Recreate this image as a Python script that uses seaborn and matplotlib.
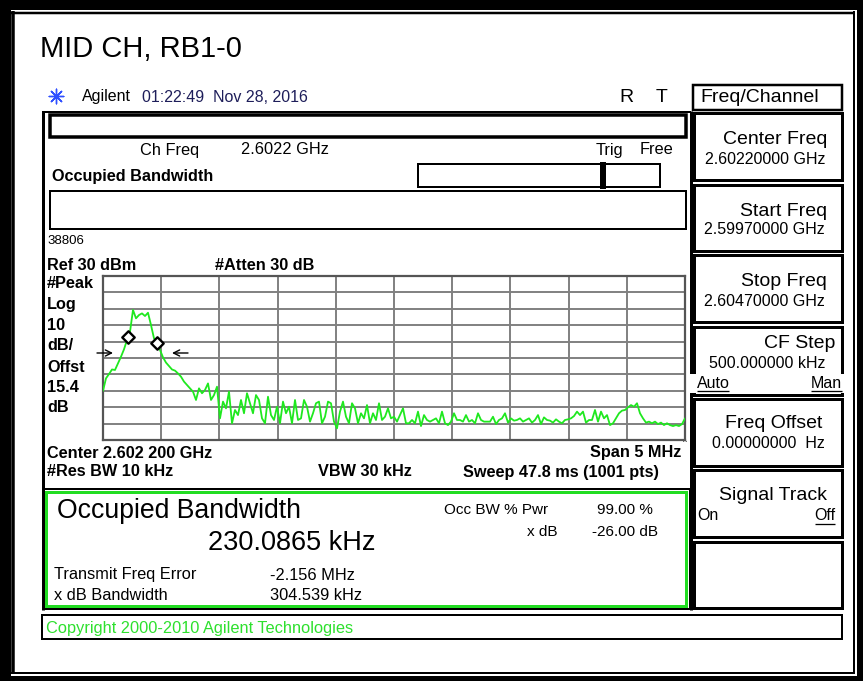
import numpy as np
import pandas as pd
import matplotlib
matplotlib.use("Agg")
import matplotlib.pyplot as plt
import seaborn as sns
from matplotlib.patches import Rectangle

sns.set_theme(style="white")
plt.rcParams["font.family"] = ["Liberation Sans", "DejaVu Sans"]

# ---------------- data ----------------
start_ghz = 2.5997
stop_ghz = 2.6047
ref_level_dbm = 30
db_per_div = 10
n_div = 10

level_carrier = [-40, -32.4, -29.8, -27, -27.3, -23.3, -19.2, -14.7, -9, -4, 9.3, 4.2, 6.2, 7.2,
                 5.6, 7.6, 0.1, -8, -11, -15.1, -19.6, -22.8, -24.9, -27, -27.7, -29.4, -31.4,
                 -34.4, -36.5, -38.5, -40.5, -45.6, -38.5]
level_skirt = [-41.5, -39.5, -35.5, -45.6, -42.6, -37.5, -56.8, -46.6, -50.7, -40.5, -59.8, -51.7,
               -54.8, -45.6, -53.7, -41.5, -47.6, -53.7, -42.6, -45.6, -56.8, -59.8, -43.6, -54.8,
               -57.8, -49.7, -59.8, -46.6, -53.7, -49.7, -59.8]
level_mid1 = [-45.6, -57.8, -56.8, -45.6, -49.7, -58.8, -53.7, -47.6, -46.6, -59.8, -55.8, -46.6,
              -47.6, -58.8, -62.9, -52.7, -46.6, -55.8, -59.8, -47.6, -50.7, -59.8, -53.7, -56.8,
              -48.7, -59.8, -53.7, -57.8, -47.6, -57.8, -55.8, -50.7]
level_mid2 = [-56.8, -55.8, -58.8, -54.8, -50.7, -59.8, -59.8, -57.8, -59.8, -52.7, -61.5, -54.8,
              -57.8, -58.8, -57.8, -56.8, -59.8, -52.7, -59.8, -60.9, -58.8, -53.7, -57.8, -57.8,
              -58.8, -54.8, -58.8, -57.8, -59.8, -53.7, -57.8, -58.8]
level_mid3 = [-58.8, -58.8, -55.8, -60.3, -57.8, -56.8, -53.7, -59.4, -56.8, -58.2, -57.8, -56.8,
              -58.8, -57.8, -56.8, -59.4, -57.8, -54.8, -60.3, -56.2, -57.8, -58.2, -59.4, -57.4,
              -58.8, -59.8, -57.8, -57.4, -56.8, -55.4, -52.7, -54.8, -52.7]
level_upper = [-59.4, -57.8, -57.8, -51.7, -58.8, -52.7, -56.8, -54.8, -60.9, -59.8, -56.8, -53.7,
               -52.1, -51.7, -50.1, -48.7, -49.7, -47.6, -53.7, -56.8, -59.4, -58.8, -59.8, -58.8,
               -60.3, -59.4, -60.9, -59.8, -60.9, -61.5, -60.9, -61.5, -60.3, -56.8]

level_dbm = level_carrier + level_skirt + level_mid1 + level_mid2 + level_mid3 + level_upper
# analyzer sweep points spread evenly across the span
freq_ghz = np.linspace(start_ghz, stop_ghz, len(level_dbm))
trace = pd.DataFrame({"freq": freq_ghz, "level": level_dbm})

marker_freq_ghz = [2.599917, 2.600161]
marker_level_dbm = [-7.0, -10.7]
markers = pd.DataFrame({"freq": marker_freq_ghz, "level": marker_level_dbm})

softkeys = [("Center Freq", "2.60220000 GHz"), ("Start Freq", "2.59970000 GHz"),
            ("Stop Freq", "2.60470000 GHz"), ("CF Step", "500.000000 kHz"),
            ("Freq Offset", "0.00000000  Hz"), ("Signal Track", ""), ("", "")]

# ---------------- figure ----------------
W, H = 863, 681
fig = plt.figure(figsize=(W / 100, H / 100), dpi=100, facecolor="white")
bg = fig.add_axes([0, 0, 1, 1])
bg.set_xlim(0, W)
bg.set_ylim(H, 0)
bg.axis("off")

PX = 0.72  # points per pixel
FS = 11.8   # small regular text
FB = 11.7   # small bold text


def T(x, y, s, size=FS, ha="left", weight="normal", color="black", va="center", z=3):
    bg.text(x, y, s, fontsize=size, ha=ha, va=va, fontweight=weight, color=color, zorder=z)


def R(x0, y0, x1, y1, lw=2, color="black", fill=False):
    bg.add_patch(Rectangle((x0, y0), x1 - x0, y1 - y0, fill=fill, lw=lw * PX,
                           edgecolor=color, facecolor=color if fill else "none"))


def L(xs, ys, lw=2, color="black", z=2):
    bg.plot(xs, ys, color=color, lw=lw * PX, solid_capstyle="butt", zorder=z)


# outer frame
R(0, 0, 9.5, H, fill=True)
R(0, 0, W, 9, fill=True)
R(858, 0, W, H, fill=True)
R(0, 677, W, H, fill=True)
L([13, 13], [11, 674], lw=3.5)
L([11, 855], [12.5, 12.5], lw=2.5)
L([854, 854], [11, 674], lw=2)
L([11, 855], [673, 673], lw=2)

# title & header
T(40, 49, "MID CH, RB1-0", size=21)
bg.scatter([56], [96], marker=(8, 2, 0), s=110, color="#3050ff", lw=1.0)
T(82, 97, "Agilent", size=11.5)
T(142, 97, "01:22:49  Nov 28, 2016", size=11.5, color="#1e1e5a")
T(626, 97, "R", size=14, ha="center")
T(662, 97, "T", size=14, ha="center")

# instrument screen frame
L([42.5, 42.5], [111, 610], lw=3)
L([42, 691], [112, 112], lw=2)
L([690.5, 690.5], [111, 610], lw=3)
R(49.5, 114.5, 686, 137, lw=3.5)
T(140, 150, "Ch Freq")
T(241, 150, "2.6022 GHz")
T(596, 150, "Trig")
T(640, 150, "Free")
T(52, 176, "Occupied Bandwidth", size=FB, weight="bold")
R(418, 163.5, 601, 187, lw=2)
R(601, 163, 605, 187.5, fill=True)
R(605, 163.5, 659.5, 187, lw=2)
R(49.5, 191, 686, 229, lw=2)

T(47, 241, "38806", size=9.5)
T(47, 265, "Ref 30 dBm", size=FB, weight="bold")
T(215, 265, "#Atten 30 dB", size=FB, weight="bold")
for yy, s in zip([284, 305, 326, 346, 368, 388, 407],
                 ["#Peak", "Log", "10", "dB/", "Offst", "15.4", "dB"]):
    T(47, yy, s, size=FB, weight="bold")
T(47, 453, "Center 2.602 200 GHz", size=FB, weight="bold")
T(681, 453, "Span 5 MHz", size=FB, weight="bold", ha="right")
T(685, 443, "^", size=6, ha="center")
T(47, 472, "#Res BW 10 kHz", size=FB, weight="bold")
T(318, 472, "VBW 30 kHz", size=FB, weight="bold")
T(463, 472, "Sweep 47.8 ms (1001 pts)", size=FB, weight="bold")

# result box
R(42.5, 488.5, 689.5, 609, lw=2)
R(46, 492, 686, 605.5, lw=3, color="#22dd22")
T(57, 511, "Occupied Bandwidth", size=19.2)
T(208, 543, "230.0865 kHz", size=19.5)
T(444, 510, "Occ BW % Pwr", size=11)
T(653, 510, "99.00 %", size=11, ha="right")
T(527, 532, "x dB", size=11)
T(658, 532, "-26.00 dB", size=11, ha="right")
T(54, 575, "Transmit Freq Error")
T(270, 575, "-2.156 MHz")
T(54, 596, "x dB Bandwidth")
T(270, 596, "304.539 kHz")

# copyright bar
R(42, 615, 842, 638.5, lw=2)
T(46, 628, "Copyright 2000-2010 Agilent Technologies", color="#2ee02e")

# softkey panel
R(693, 85, 842, 110, lw=2.5)
T(700, 98, "Freq/Channel", size=14)
tops = [113, 185, 255, 327, 399, 470, 542]
bots = [180, 251, 322, 395, 466, 537, 608]
lab_dy = [27, 26, 27, 17, 25, 25, 0]
val_dy = [46, 45, 46, 37, 45, 0, 0]
lab_x = [827, 827, 827, 835, 822, 827, 0]
for (lab, val), t, b, ld, vd, lx in zip(softkeys, tops, bots, lab_dy, val_dy, lab_x):
    R(694, t, 842, b, lw=3)
    if lab:
        T(lx, t + ld, lab, size=14, ha="right")
    if val:
        T(825, t + vd, val, size=11.5, ha="right")
# Auto / Man row
bg.add_patch(Rectangle((690, 374), 154, 19, facecolor="white", edgecolor="none", zorder=3))
T(697, 383, "Auto", size=11.5, z=4)
T(842, 383, "Man", size=11.5, ha="right", z=4)
L([697, 729], [391, 391], lw=1.3, z=4)
L([811, 842], [391, 391], lw=1.3, z=4)
T(697, 516, "On", size=11.5)
T(835, 516, "Off", size=11.5, ha="right")
L([815, 835], [524, 524], lw=1.3)

# ---------------- spectrum graticule ----------------
gx0, gx1, gy0, gy1 = 103, 685, 276, 440
ax = fig.add_axes([gx0 / W, 1 - gy1 / H, (gx1 - gx0) / W, (gy1 - gy0) / H])
ax.set_facecolor("white")
bottom_dbm = ref_level_dbm - n_div * db_per_div
ax.set_xlim(start_ghz, stop_ghz)
ax.set_ylim(bottom_dbm, ref_level_dbm)
ax.set_xticks(np.linspace(start_ghz, stop_ghz, n_div + 1))
ax.set_yticks(np.arange(bottom_dbm, ref_level_dbm + 1, db_per_div))
ax.grid(True, color="#808080", lw=1.4)
ax.tick_params(length=0, labelbottom=False, labelleft=False)
for sp in ax.spines.values():
    sp.set_color("#555555")
    sp.set_linewidth(1.6)

sns.lineplot(data=trace, x="freq", y="level", ax=ax, color="#1fe81f", lw=1.3,
             estimator=None, sort=False, zorder=3)
sns.scatterplot(data=markers, x="freq", y="level", ax=ax, marker="D", s=40,
                facecolor="white", edgecolor="black", linewidth=1.7, zorder=4)
ax.set_xlabel("")
ax.set_ylabel("")

# overlay for the x dB arrows (they cross the graticule edge)
top = fig.add_axes([0, 0, 1, 1], facecolor="none")
top.set_xlim(0, W)
top.set_ylim(H, 0)
top.axis("off")
top.annotate("", xy=(113, 353), xytext=(97, 353),
             arrowprops=dict(arrowstyle="->", color="black", lw=1.0, mutation_scale=11,
                             shrinkA=0, shrinkB=0))
top.annotate("", xy=(172, 353), xytext=(188, 353),
             arrowprops=dict(arrowstyle="->", color="black", lw=1.0, mutation_scale=11,
                             shrinkA=0, shrinkB=0))

fig.savefig("out.png", dpi=100, facecolor="white")
